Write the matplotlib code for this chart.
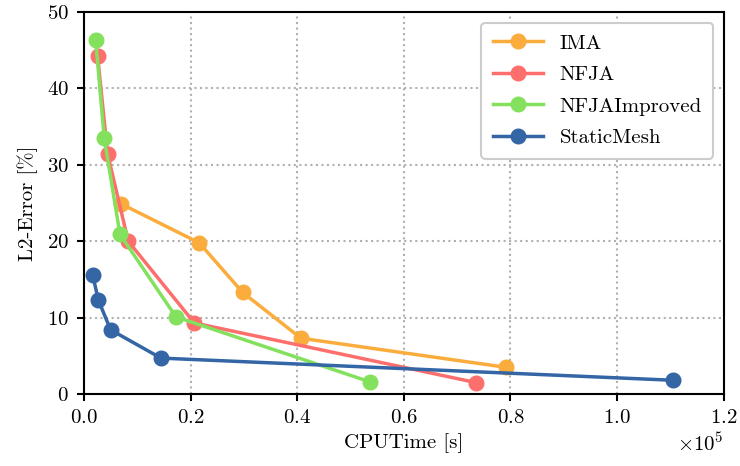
import matplotlib
matplotlib.use("Agg")
import matplotlib.pyplot as plt

plt.rcParams['font.family'] = ['cmr10', 'DejaVu Serif']
plt.rcParams['mathtext.fontset'] = 'cm'
plt.rcParams['axes.formatter.use_mathtext'] = True
plt.rcParams['axes.unicode_minus'] = False

# CPU time [s] and L2 error [%] per method
ima_t = [6940, 21600, 29760, 40700, 79100]
ima_err = [24.9, 19.8, 13.3, 7.3, 3.5]

nfja_t = [2560, 4440, 8300, 20700, 73500]
nfja_err = [44.2, 31.4, 20.0, 9.3, 1.5]

nfjai_t = [2190, 3800, 6750, 17250, 53600]
nfjai_err = [46.3, 33.5, 20.9, 10.1, 1.6]

static_t = [1630, 2690, 5000, 14440, 110400]
static_err = [15.6, 12.3, 8.4, 4.7, 1.8]

fig = plt.figure(figsize=(7.4, 4.66), dpi=100)
ax = fig.add_axes([0.1135, 0.1545, 0.8645, 0.8195])

style = dict(lw=2.5, marker='o', ms=10.5)
ax.plot(ima_t, ima_err, color='#faad3c', label='IMA', **style)
ax.plot(nfja_t, nfja_err, color='#fd6f6d', label='NFJA', **style)
ax.plot(nfjai_t, nfjai_err, color='#84e15d', label='NFJAImproved', **style)
ax.plot(static_t, static_err, color='#3465a5', label='StaticMesh', **style)

ax.set_xlim(0, 120000)
ax.set_ylim(0, 50)
ax.ticklabel_format(style='sci', axis='x', scilimits=(0, 0))
ax.xaxis.get_offset_text().set_fontsize(15)
ax.grid(True, ls=':', color='#b0b0b0', lw=1.5)
ax.tick_params(labelsize=15, width=1.5, length=5, pad=6)
for s in ax.spines.values():
    s.set_linewidth(1.5)

ax.set_xlabel('CPUTime [s]', fontsize=15)
ax.set_ylabel('L2-Error [%]', fontsize=15, labelpad=6)

leg = ax.legend(loc='upper right', fontsize=15, fancybox=True, framealpha=1,
                handlelength=2.4, handletextpad=0.8, borderpad=0.55,
                labelspacing=0.62)
leg.get_frame().set_edgecolor('#cccccc')
leg.get_frame().set_linewidth(1.5)

fig.savefig('out.png', dpi=100)
